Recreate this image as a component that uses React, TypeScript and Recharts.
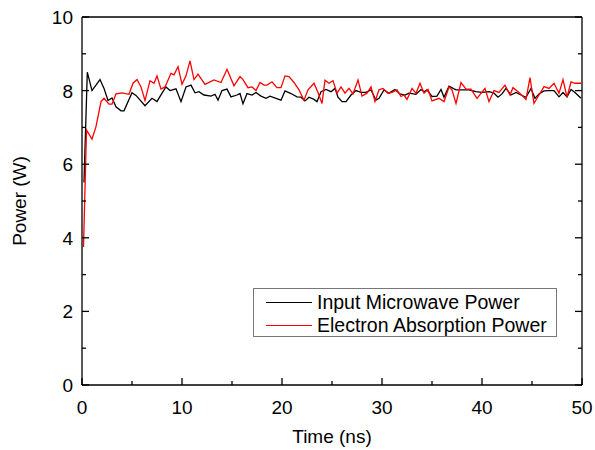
import React from 'react'
import { LineChart, Line, XAxis, YAxis } from 'recharts'

const inputTime = [
  0.2, 0.53, 1.0, 1.8, 2.2, 2.6, 3.0, 3.4, 3.9, 4.2, 5.0, 5.4, 6.3, 7.0, 7.5, 8.0, 8.4, 8.8, 9.4, 9.9,
  10.4, 10.9, 11.3, 11.7, 12.2, 12.9, 13.3, 13.6, 14.0, 14.5, 14.9, 15.5, 15.8, 16.1, 16.5, 17.0, 17.4, 17.9, 18.4, 18.8,
  19.4, 19.9, 20.3, 20.9, 21.5, 21.9, 22.3, 22.7, 23.2, 23.5, 23.9, 24.4, 24.9, 25.3, 25.6, 26.0, 26.4, 26.9, 27.4, 27.9,
  28.4, 28.9, 29.4, 29.7, 30.2, 30.7, 31.3, 31.8, 32.3, 32.7, 33.4, 33.9, 34.2, 34.5, 35.0, 35.5, 35.9, 36.2, 36.7, 37.4,
  38.0, 38.7, 39.4, 40.0, 40.7, 41.2, 41.6, 42.0, 42.4, 42.9, 43.4, 43.9, 44.4, 44.9, 45.3, 45.7, 46.2, 46.7, 47.2, 47.7,
  48.1, 48.5, 48.9, 49.3, 49.9,
]
const inputPower = [
  5.5, 8.5, 8.0, 8.3, 8.06, 7.73, 7.8, 7.56, 7.45, 7.45, 7.94, 7.87, 7.59, 7.79, 7.7, 7.93, 8.1, 8.0, 8.05, 7.7,
  8.1, 8.15, 7.94, 7.97, 7.88, 7.85, 7.9, 7.74, 8.0, 8.04, 7.83, 7.88, 7.92, 7.64, 7.92, 7.88, 7.95, 7.85, 7.79, 7.85,
  7.79, 7.74, 7.99, 7.92, 7.83, 7.82, 7.72, 7.82, 7.76, 7.7, 7.97, 8.03, 7.97, 8.06, 7.82, 7.7, 7.7, 7.88, 8.0, 7.95,
  7.95, 8.02, 7.74, 7.79, 8.02, 7.93, 8.03, 7.91, 7.88, 7.93, 7.9, 8.03, 7.97, 8.02, 7.84, 7.85, 8.03, 7.82, 8.12, 8.02,
  8.02, 8.02, 7.97, 7.95, 7.97, 7.93, 7.82, 7.91, 8.06, 7.88, 7.95, 7.88, 7.82, 8.06, 7.79, 7.91, 7.99, 8.0, 8.0, 7.83,
  7.95, 7.83, 8.03, 7.95, 7.79,
]

const absorbTime = [
  0.15, 0.45, 1.0, 1.4, 1.9, 2.2, 2.7, 3.0, 3.4, 4.0, 4.7, 5.1, 5.5, 5.9, 6.3, 6.8, 7.2, 7.5, 7.9, 8.3,
  8.9, 9.2, 9.6, 10.0, 10.4, 10.8, 11.2, 11.6, 12.3, 13.2, 13.9, 14.5, 15.2, 15.8, 16.1, 16.6, 17.0, 17.4, 17.8, 18.2,
  18.5, 19.0, 19.5, 19.9, 20.3, 20.7, 21.2, 21.7, 22.2, 22.6, 23.2, 23.6, 24.0, 24.3, 24.7, 25.1, 25.5, 25.9, 26.3, 26.7,
  27.1, 27.6, 28.0, 28.5, 28.9, 29.3, 29.7, 30.1, 30.6, 31.0, 31.5, 31.9, 32.2, 32.5, 33.0, 33.4, 33.8, 34.2, 34.6, 35.0,
  35.7, 36.2, 36.7, 37.0, 37.4, 37.9, 38.4, 38.9, 39.5, 40.3, 40.7, 41.2, 41.7, 42.3, 42.8, 43.1, 43.7, 44.4, 44.8, 45.2,
  45.7, 46.2, 46.7, 47.2, 47.7, 48.1, 48.5, 48.9, 49.3, 49.9,
]
const absorbPower = [
  3.75, 6.93, 6.68, 7.02, 7.7, 7.79, 7.63, 7.63, 7.91, 7.94, 7.9, 8.2, 8.3, 8.1, 7.73, 8.27, 8.2, 8.4, 8.04, 8.1,
  8.47, 8.43, 8.65, 8.17, 8.4, 8.81, 8.3, 8.45, 8.17, 8.29, 8.22, 8.58, 8.13, 8.38, 8.3, 8.08, 8.1, 8.0, 8.22, 8.15,
  8.15, 8.24, 8.08, 8.08, 8.4, 8.38, 8.22, 8.02, 7.74, 8.02, 8.2, 7.95, 7.65, 8.28, 8.2, 8.27, 7.93, 8.1, 7.93, 8.06,
  7.91, 8.29, 7.85, 7.93, 8.1, 7.7, 8.02, 8.06, 7.93, 7.95, 8.02, 7.84, 7.88, 7.76, 8.06, 7.93, 8.2, 7.93, 8.03, 7.72,
  7.79, 7.7, 8.1, 8.02, 7.65, 8.22, 8.04, 8.04, 7.79, 8.06, 7.7, 8.0, 7.95, 8.15, 7.88, 8.08, 7.95, 7.76, 8.35, 7.65,
  7.88, 8.11, 8.06, 8.2, 7.93, 8.3, 7.82, 8.24, 8.2, 8.2,
]

const xTicks = [0, 5, 10, 15, 20, 25, 30, 35, 40, 45, 50]
const yTicks = [0, 1, 2, 3, 4, 5, 6, 7, 8, 9, 10]

const seriesNames = ['Input Microwave Power', 'Electron Absorption Power']
const seriesColors = ['#000000', '#ff0000']

const FONT = '"Liberation Sans", Arial, sans-serif'
const AXIS = { stroke: '#000', strokeWidth: 1.3 }

const inputData = inputTime.map((t, i) => ({ t, v: inputPower[i] }))
const absorbData = absorbTime.map((t, i) => ({ t, v: absorbPower[i] }))

const BottomTick = ({ x, y, payload }: any) => {
  const major = payload.value % 10 === 0
  return (
    <g>
      <line x1={x} x2={x} y1={y} y2={y - (major ? 7 : 4)} {...AXIS} />
      {major && (
        <text x={x} y={y + 29} textAnchor="middle" fontSize={19} fontFamily={FONT} fill="#000">
          {payload.value}
        </text>
      )}
    </g>
  )
}

const TopTick = ({ x, y, payload }: any) => {
  const major = payload.value % 10 === 0
  return <line x1={x} x2={x} y1={y} y2={y + (major ? 7 : 4)} {...AXIS} />
}

const LeftTick = ({ x, y, payload }: any) => {
  const major = payload.value % 2 === 0
  return (
    <g>
      <line x1={x} x2={x + (major ? 7 : 4)} y1={y} y2={y} {...AXIS} />
      {major && (
        <text x={x - 9} y={y + 7} textAnchor="end" fontSize={19} fontFamily={FONT} fill="#000">
          {payload.value}
        </text>
      )}
    </g>
  )
}

const RightTick = ({ x, y, payload }: any) => {
  const major = payload.value % 2 === 0
  return <line x1={x} x2={x - (major ? 7 : 4)} y1={y} y2={y} {...AXIS} />
}

export default function App() {
  return (
    <div style={{ position: 'absolute', left: 0, top: 0, width: 595, height: 450, background: '#fff' }}>
      <LineChart width={595} height={450} margin={{ top: 16, right: 12, bottom: 0, left: 0 }}>
        <XAxis
          xAxisId="b"
          dataKey="t"
          type="number"
          domain={[0, 50]}
          ticks={xTicks}
          height={65}
          tickSize={0}
          tickMargin={0}
          tick={BottomTick}
          axisLine={AXIS}
          allowDataOverflow
          label={{ value: 'Time (ns)', position: 'insideBottom', offset: 7, fontSize: 19, fontFamily: FONT, fill: '#000' }}
        />
        <XAxis
          xAxisId="top"
          orientation="top"
          type="number"
          domain={[0, 50]}
          ticks={xTicks}
          height={1}
          tickSize={0}
          tickMargin={0}
          tick={TopTick}
          axisLine={AXIS}
          allowDataOverflow
        />
        <YAxis
          yAxisId="l"
          type="number"
          domain={[0, 10]}
          ticks={yTicks}
          width={82}
          tickSize={0}
          tickMargin={0}
          tick={LeftTick}
          axisLine={AXIS}
          allowDataOverflow
          label={{ value: 'Power (W)', angle: -90, position: 'insideLeft', offset: 19, fontSize: 19, fontFamily: FONT, fill: '#000', style: { textAnchor: 'middle' } }}
        />
        <YAxis
          yAxisId="r"
          orientation="right"
          type="number"
          domain={[0, 10]}
          ticks={yTicks}
          width={1}
          tickSize={0}
          tickMargin={0}
          tick={RightTick}
          axisLine={AXIS}
          allowDataOverflow
        />
        <Line
          xAxisId="b"
          yAxisId="l"
          data={inputData}
          dataKey="v"
          stroke={seriesColors[0]}
          strokeWidth={1.3}
          dot={false}
          isAnimationActive={false}
        />
        <Line
          xAxisId="b"
          yAxisId="l"
          data={absorbData}
          dataKey="v"
          stroke={seriesColors[1]}
          strokeWidth={1.3}
          dot={false}
          isAnimationActive={false}
        />
      </LineChart>
      <div
        style={{
          position: 'absolute',
          left: 253,
          top: 288,
          width: 304,
          height: 49,
          border: '1px solid #777',
          boxSizing: 'border-box',
          fontFamily: FONT,
          fontSize: 19.5,
          color: '#000',
        }}
      >
        {seriesNames.map((name, i) => (
          <div key={name} style={{ position: 'absolute', left: 12, top: 2 + i * 23, height: 22, display: 'flex', alignItems: 'center', whiteSpace: 'nowrap' }}>
            <span style={{ display: 'inline-block', width: 46, height: 0, borderTop: `1.3px solid ${seriesColors[i]}`, marginRight: 5 }} />
            <span>{name}</span>
          </div>
        ))}
      </div>
    </div>
  )
}
